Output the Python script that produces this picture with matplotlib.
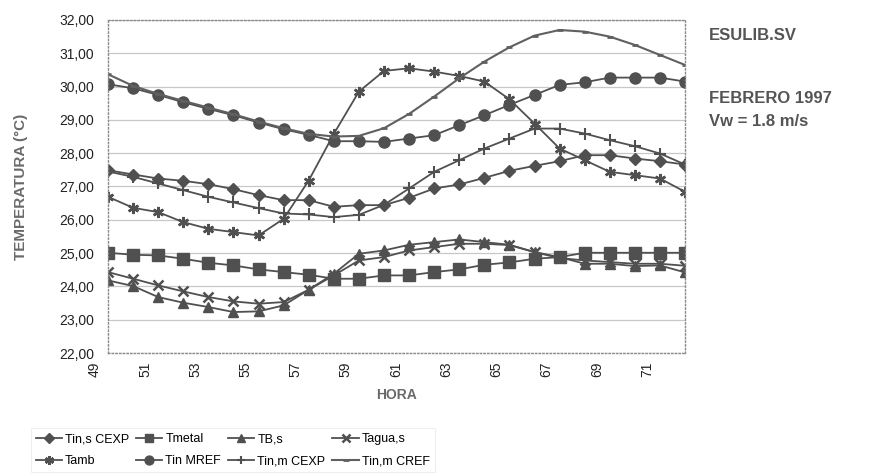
import numpy as np
import matplotlib
matplotlib.use("Agg")
import matplotlib.pyplot as plt
import matplotlib.transforms as mtransforms

plt.rcParams['font.family'] = ['Liberation Sans', 'DejaVu Sans']

# hours (categories on the x axis)
hora = list(range(49, 73))
xticks = list(range(49, 73, 2))

tin_s_cexp = [27.49, 27.36, 27.24, 27.17, 27.07, 26.92, 26.74, 26.59, 26.59, 26.39, 26.44, 26.44,
              26.66, 26.94, 27.06, 27.26, 27.47, 27.62, 27.76, 27.94, 27.94, 27.84, 27.76, 27.66]
tmetal = [25.01, 24.95, 24.93, 24.83, 24.71, 24.63, 24.51, 24.43, 24.35, 24.23, 24.23, 24.33,
          24.33, 24.43, 24.51, 24.65, 24.72, 24.83, 24.88, 25.01, 25.01, 25.01, 25.01, 25.01]
tb_s = [24.18, 24.01, 23.68, 23.51, 23.38, 23.23, 23.25, 23.43, 23.90, 24.38, 24.98, 25.08,
        25.25, 25.33, 25.41, 25.33, 25.25, 25.03, 24.88, 24.68, 24.68, 24.61, 24.63, 24.42]
tagua_s = [24.43, 24.23, 24.03, 23.85, 23.68, 23.55, 23.48, 23.53, 23.90, 24.33, 24.78, 24.88,
           25.08, 25.18, 25.28, 25.28, 25.24, 25.03, 24.85, 24.78, 24.73, 24.68, 24.68, 24.62]
tamb = [26.69, 26.36, 26.23, 25.93, 25.73, 25.63, 25.53, 26.03, 27.18, 28.58, 29.85, 30.47,
        30.55, 30.45, 30.32, 30.15, 29.62, 28.89, 28.14, 27.79, 27.44, 27.34, 27.24, 26.84]
tin_mref = [30.07, 29.95, 29.75, 29.53, 29.33, 29.14, 28.92, 28.72, 28.55, 28.36, 28.36, 28.34,
            28.44, 28.54, 28.84, 29.14, 29.45, 29.75, 30.05, 30.13, 30.27, 30.27, 30.27, 30.15]
tin_m_cexp = [27.45, 27.29, 27.09, 26.89, 26.69, 26.52, 26.35, 26.19, 26.16, 26.08, 26.15, 26.45,
              26.94, 27.44, 27.79, 28.14, 28.44, 28.74, 28.74, 28.59, 28.39, 28.21, 27.99, 27.66]
tin_m_cref = [30.37, 30.02, 29.78, 29.57, 29.37, 29.17, 28.95, 28.75, 28.58, 28.50, 28.52, 28.75,
              29.18, 29.70, 30.25, 30.75, 31.18, 31.53, 31.70, 31.65, 31.50, 31.25, 30.95, 30.65]

fig = plt.figure(figsize=(8.74, 4.76), dpi=100)
ax = fig.add_axes([0.1236, 0.2584, 0.6602, 0.6996])

dark = '#505050'
lines = []
lines += ax.plot(hora, tin_s_cexp, color=dark, lw=1.3, marker='D', ms=6, label='Tin,s CEXP')
lines += ax.plot(hora, tmetal, color=dark, lw=1.3, marker='s', ms=8, label='Tmetal')
lines += ax.plot(hora, tb_s, color=dark, lw=1.3, marker='^', ms=7.5, label='TB,s')
lines += ax.plot(hora, tagua_s, color=dark, lw=1.3, marker='x', ms=7, mew=1.8, label='Tagua,s')
lines += ax.plot(hora, tamb, color=dark, lw=1.3, marker=(6, 2, 0), ms=8, mew=1.8, label='Tamb')
lines += ax.plot(hora, tin_mref, color=dark, lw=1.3, marker='o', ms=8, label='Tin MREF')
lines += ax.plot(hora, tin_m_cexp, color=dark, lw=1.3, marker='+', ms=8, mew=1.5, label='Tin,m CEXP')
lines += ax.plot(hora, tin_m_cref, color='#606060', lw=1.5, marker='_', ms=5, mew=2, label='Tin,m CREF')

ax.set_xlim(49, 72)
ax.set_ylim(22, 32)
ax.tick_params(axis='both', length=0, pad=6)
ax.tick_params(axis='y', pad=10)
ax.set_yticks(np.arange(22, 33, 1))
ax.set_yticklabels([f'{v:.2f}'.replace('.', ',') for v in np.arange(22, 33, 1)], fontsize=10, color='#222')
ax.set_xticks(xticks)
ax.set_xticklabels([str(h) for h in xticks], rotation=90, fontsize=10, color='#222')
# labels sit half a step left of their category, as in the original sheet
offset = mtransforms.ScaledTranslation(-0.13, 0, fig.dpi_scale_trans)
for lab in ax.get_xticklabels():
    lab.set_transform(lab.get_transform() + offset)

ax.grid(axis='y', color='#c8c8c8', lw=0.9)
ax.set_axisbelow(True)
for sp in ax.spines.values():
    sp.set_color('#8a8a8a')
    sp.set_linewidth(1.0)
    sp.set_linestyle(':')

ax.set_xlabel('HORA', fontsize=10, fontweight='bold', color='#6a6a6a', labelpad=8)
fig.text(0.024, 0.607, 'TEMPERATURA (°C)', rotation=90, ha='center', va='center',
         fontsize=11, fontweight='bold', color='#6a6a6a')

fig.text(0.811, 0.926, 'ESULIB.SV', fontsize=12, fontweight='bold', color='#555', va='center')
fig.text(0.811, 0.793, 'FEBRERO 1997', fontsize=12, fontweight='bold', color='#555', va='center')
fig.text(0.811, 0.744, 'Vw = 1.8 m/s', fontsize=12, fontweight='bold', color='#555', va='center')

order = [0, 4, 1, 5, 2, 6, 3, 7]
leg = fig.legend([lines[i] for i in order], [lines[i].get_label() for i in order],
                 ncol=4, loc='upper left', bbox_to_anchor=(0.035, 0.1), fontsize=9,
                 frameon=True, handlelength=2.1, handletextpad=0.25, columnspacing=0.55,
                 labelspacing=0.8, borderaxespad=0, markerscale=0.8, borderpad=0.4)
leg.get_frame().set_edgecolor('#ececec')
leg.get_frame().set_linewidth(0.8)
leg.get_frame().set_boxstyle('square', pad=0)

fig.savefig('out.png', dpi=100)
